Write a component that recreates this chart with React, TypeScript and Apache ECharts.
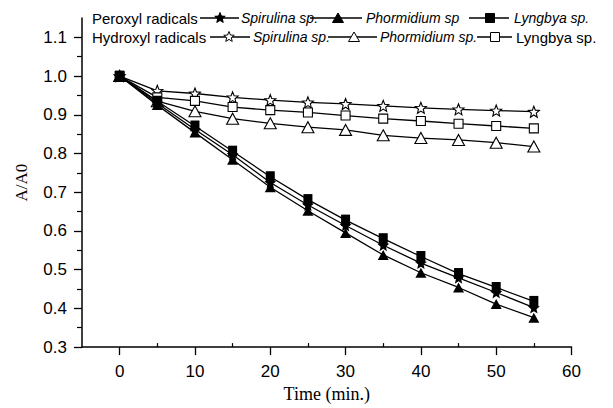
import React, { useEffect, useRef } from "react";
import * as echarts from "echarts";

// ---- data ----
const timeMin = [0, 5, 10, 15, 20, 25, 30, 35, 40, 45, 50, 55];
const peroxylSpirulina = [1.0, 0.93, 0.862, 0.797, 0.725, 0.667, 0.614, 0.563, 0.517, 0.479, 0.441, 0.402];
const peroxylPhormidium = [1.0, 0.925, 0.854, 0.784, 0.713, 0.652, 0.595, 0.538, 0.492, 0.454, 0.411, 0.376];
const peroxylLyngbya = [1.0, 0.935, 0.871, 0.806, 0.74, 0.681, 0.628, 0.58, 0.534, 0.49, 0.454, 0.418];
const hydroxylSpirulina = [1.0, 0.962, 0.955, 0.945, 0.938, 0.932, 0.928, 0.923, 0.918, 0.914, 0.911, 0.908];
const hydroxylPhormidium = [1.0, 0.935, 0.909, 0.89, 0.878, 0.868, 0.861, 0.847, 0.84, 0.835, 0.828, 0.818];
const hydroxylLyngbya = [1.0, 0.945, 0.936, 0.92, 0.912, 0.906, 0.898, 0.89, 0.884, 0.877, 0.871, 0.865];

const xTickLabels = [0, 10, 20, 30, 40, 50, 60];
const xMinorTicks = [5, 15, 25, 35, 45, 55];
const yTickLabels = [0.3, 0.4, 0.5, 0.6, 0.7, 0.8, 0.9, 1.0, 1.1];
const yMinorTicks = [0.35, 0.45, 0.55, 0.65, 0.75, 0.85, 0.95, 1.05];

const STAR =
  "M50 0 L62.93 32.2 L97.55 34.55 L70.92 56.8 L79.39 90.45 L50 72 L20.61 90.45 L29.08 56.8 L2.45 34.55 L37.07 32.2 Z";
echarts.graphic.registerShape("legendStar", echarts.graphic.extendPath(STAR, {}));

const SANS = '"Liberation Sans", Arial, sans-serif';
const SERIF = '"Liberation Serif", "Times New Roman", serif';

function mk(name: string, values: number[], symbol: string, size: any, filled: boolean) {
  return {
    type: "line",
    name,
    data: timeMin.map((t, i) => [t, values[i]]),
    symbol,
    symbolSize: size,
    showAllSymbol: true,
    lineStyle: { color: "#000", width: 1.3 },
    itemStyle: { color: filled ? "#000" : "#fff", borderColor: "#000", borderWidth: filled ? 0 : 1.1 },
    z: filled ? 3 : 2,
    xAxisIndex: 0,
    yAxisIndex: 0,
  };
}

function legendText(x: number, y: number, text: string, italic: boolean, size = 14) {
  return {
    type: "text",
    x,
    y,
    style: {
      text,
      fontSize: size,
      fontFamily: SANS,
      fontStyle: italic ? "italic" : "normal",
      fill: "#000",
      verticalAlign: "middle",
      align: "left",
    },
  };
}
function legendLine(x1: number, x2: number, y: number) {
  return { type: "line", shape: { x1, y1: y, x2, y2: y }, style: { stroke: "#000", lineWidth: 1.3 } };
}
function legendStar(cx: number, cy: number, filled: boolean) {
  return {
    type: "legendStar",
    x: cx - 5.5,
    y: cy - 5.5,
    scaleX: 0.11,
    scaleY: 0.11,
    style: { fill: filled ? "#000" : "#fff", stroke: "#000", lineWidth: 9 },
  };
}
function legendTri(cx: number, cy: number, filled: boolean) {
  return {
    type: "polygon",
    shape: { points: [[cx, cy - 5], [cx + 5.5, cy + 4.5], [cx - 5.5, cy + 4.5]] },
    style: { fill: filled ? "#000" : "#fff", stroke: "#000", lineWidth: 1 },
  };
}
function legendRect(cx: number, cy: number, filled: boolean) {
  return {
    type: "rect",
    shape: { x: cx - 4.5, y: cy - 4.5, width: 9, height: 9 },
    style: { fill: filled ? "#000" : "#fff", stroke: "#000", lineWidth: 1 },
  };
}

export default function App() {
  const ref = useRef<HTMLDivElement>(null);
  useEffect(() => {
    if (!ref.current) return;
    const chart = echarts.init(ref.current, null, { renderer: "svg" });
    const r1 = 18;
    const r2 = 37;
    chart.setOption({
      animation: false,
      backgroundColor: "#fff",
      grid: { left: 82, right: 41.5, top: 18, bottom: 54, containLabel: false },
      xAxis: [
        {
          type: "value",
          min: -5,
          max: 60,
          name: "Time (min.)",
          nameLocation: "middle",
          nameGap: 37,
          nameTextStyle: { fontFamily: SERIF, fontSize: 18, color: "#000" },
          axisLine: { onZero: false, lineStyle: { color: "#000", width: 1.5 } },
          axisTick: { customValues: xTickLabels, length: 8, lineStyle: { color: "#000", width: 1.3 } },
          axisLabel: {
            customValues: xTickLabels,
            fontFamily: SANS,
            fontSize: 17,
            color: "#000",
            margin: 16,
          },
          splitLine: { show: false },
        },
        {
          type: "value",
          min: -5,
          max: 60,
          position: "bottom",
          axisLine: { show: false, onZero: false },
          axisTick: { customValues: xMinorTicks, inside: true, length: 4, lineStyle: { color: "#000", width: 1.2 } },
          axisLabel: { show: false },
          splitLine: { show: false },
        },
      ],
      yAxis: [
        {
          type: "value",
          min: 0.3,
          max: 1.15,
          name: "A/A0",
          nameLocation: "middle",
          nameRotate: 90,
          nameGap: 52,
          nameTextStyle: { fontFamily: SERIF, fontSize: 17, color: "#000" },
          axisLine: { onZero: false, lineStyle: { color: "#000", width: 1.5 } },
          axisTick: { customValues: yTickLabels, length: 8, lineStyle: { color: "#000", width: 1.3 } },
          axisLabel: {
            customValues: yTickLabels,
            fontFamily: SANS,
            fontSize: 17,
            color: "#000",
            margin: 15,
            formatter: (v: number) => v.toFixed(1),
          },
          splitLine: { show: false },
        },
        {
          type: "value",
          min: 0.3,
          max: 1.15,
          position: "left",
          axisLine: { show: false, onZero: false },
          axisTick: { customValues: yMinorTicks, length: 5, lineStyle: { color: "#000", width: 1.2 } },
          axisLabel: { show: false },
          splitLine: { show: false },
        },
      ],
      series: [
        mk("Hydroxyl Spirulina sp.", hydroxylSpirulina, "path://" + STAR, 11, false),
        mk("Hydroxyl Phormidium sp.", hydroxylPhormidium, "triangle", [12, 11], false),
        mk("Hydroxyl Lyngbya sp.", hydroxylLyngbya, "rect", [9, 9], false),
        mk("Peroxyl Lyngbya sp.", peroxylLyngbya, "rect", [9, 11], true),
        mk("Peroxyl Spirulina sp.", peroxylSpirulina, "path://" + STAR, 12, true),
        mk("Peroxyl Phormidium sp.", peroxylPhormidium, "triangle", [11, 10], true),
      ],
      graphic: [
        legendText(92, r1, "Peroxyl radicals", false, 15),
        legendLine(200, 239, r1),
        legendStar(220, r1, true),
        legendText(241, r1, "Spirulina sp.", true),
        legendLine(310, 362, r1),
        legendTri(338, r1, true),
        legendText(366, r1, "Phormidium sp", true),
        legendLine(469, 509, r1),
        legendRect(490, r1, true),
        legendText(514, r1, "Lyngbya sp.", true),

        legendText(92, r2, "Hydroxyl radicals", false, 15),
        legendLine(210, 250, r2),
        legendStar(229, r2, false),
        legendText(253, r2, "Spirulina sp.", true),
        legendLine(328, 377, r2),
        legendTri(354, r2, false),
        legendText(380, r2, "Phormidium sp.", true),
        legendLine(477, 512, r2),
        legendRect(495, r2, false),
        legendText(516, r2, "Lyngbya sp.", false, 15),
      ],
    });
    return () => chart.dispose();
  }, []);
  return (
    <div
      ref={ref}
      style={{ position: "fixed", left: 0, top: 0, width: 613, height: 408, background: "#fff" }}
    />
  );
}
